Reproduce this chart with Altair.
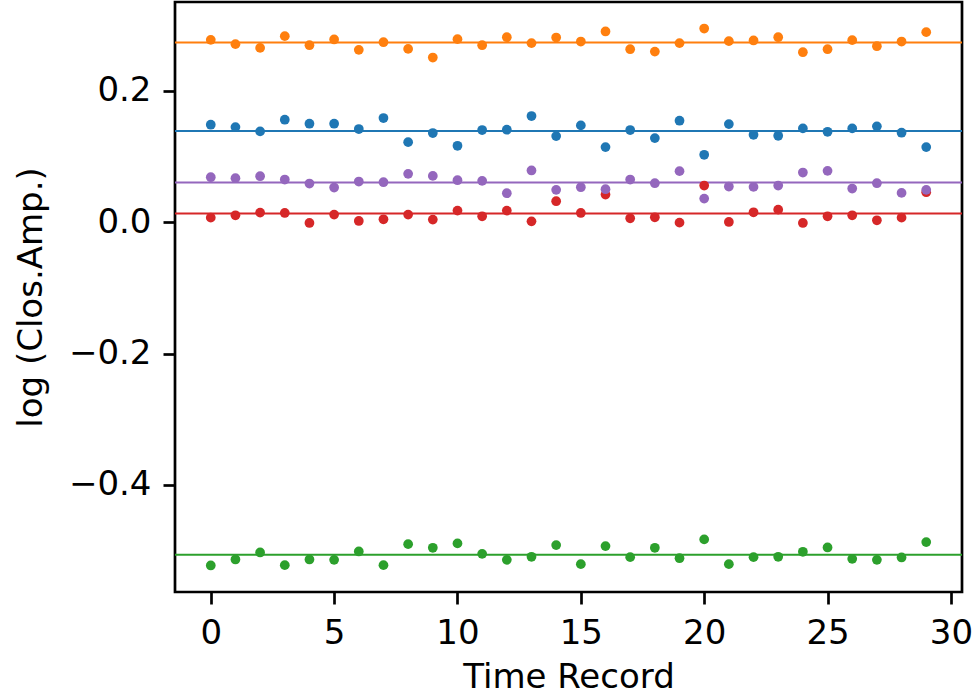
import altair as alt
import pandas as pd

records = list(range(30))

blue = [0.1486, 0.1450, 0.1384, 0.1562, 0.1501, 0.1501, 0.1420, 0.1588, 0.1221, 0.1359,
        0.1165, 0.1405, 0.1410, 0.1618, 0.1313, 0.1476, 0.1145, 0.1405, 0.1282, 0.1547,
        0.1028, 0.1496, 0.1333, 0.1318, 0.1430, 0.1379, 0.1430, 0.1461, 0.1364, 0.1145]
orange = [0.2779, 0.2713, 0.2656, 0.2835, 0.2697, 0.2784, 0.2626, 0.2743, 0.2641, 0.2509,
          0.2789, 0.2697, 0.2819, 0.2728, 0.2814, 0.2753, 0.2906, 0.2636, 0.2600, 0.2728,
          0.2951, 0.2759, 0.2769, 0.2819, 0.2590, 0.2636, 0.2774, 0.2682, 0.2753, 0.2896]
green = [-0.5226, -0.5135, -0.5028, -0.5221, -0.5135, -0.5140, -0.5013, -0.5221, -0.4901, -0.4957,
         -0.4890, -0.5049, -0.5140, -0.5094, -0.4916, -0.5206, -0.4931, -0.5099, -0.4957, -0.5115,
         -0.4829, -0.5206, -0.5099, -0.5094, -0.5018, -0.4952, -0.5125, -0.5140, -0.5104, -0.4870]
red = [0.0071, 0.0107, 0.0148, 0.0142, -0.0010, 0.0117, 0.0020, 0.0046, 0.0117, 0.0041,
       0.0178, 0.0092, 0.0178, 0.0015, 0.0321, 0.0142, 0.0422, 0.0061, 0.0076, -0.0005,
       0.0560, 0.0005, 0.0153, 0.0193, -0.0010, 0.0092, 0.0107, 0.0031, 0.0071, 0.0458]
purple = [0.0687, 0.0672, 0.0702, 0.0651, 0.0590, 0.0529, 0.0621, 0.0611, 0.0738, 0.0707,
          0.0641, 0.0631, 0.0443, 0.0789, 0.0494, 0.0534, 0.0504, 0.0651, 0.0595, 0.0779,
          0.0361, 0.0545, 0.0539, 0.0560, 0.0758, 0.0784, 0.0514, 0.0595, 0.0448, 0.0494]

series_names = ["s0", "s1", "s2", "s3", "s4"]
series_values = [blue, orange, green, red, purple]
series_means = [0.139, 0.2737, -0.5064, 0.0133, 0.0606]
series_colors = ["#1f77b4", "#ff7f0e", "#2ca02c", "#d62728", "#9467bd"]

x_ticks = [0, 5, 10, 15, 20, 25, 30]
y_ticks = [-0.4, -0.2, 0.0, 0.2]

rows = []
for name, vals in zip(series_names, series_values):
    for r, v in zip(records, vals):
        rows.append({"series": name, "record": r, "value": v})
points_df = pd.DataFrame(rows)
means_df = pd.DataFrame({"series": series_names, "mean": series_means})

color = alt.Color("series:N", scale=alt.Scale(domain=series_names, range=series_colors), legend=None)

xscale = alt.Scale(domain=[-1.45, 30.45], nice=False, zero=False)
yscale = alt.Scale(domain=[-0.563, 0.3355], nice=False, zero=False)

FS = 34
common = dict(grid=False, labelFontSize=FS, titleFontSize=FS, labelFont="DejaVu Sans",
              titleFont="DejaVu Sans", titleFontWeight="normal", tickSize=12, tickWidth=2.7,
              tickColor="black", labelColor="black", titleColor="black", labelPadding=12,
              domain=False, labelFlush=False)

xaxis = alt.Axis(title="Time Record", values=x_ticks, titlePadding=10, **common)
yaxis = alt.Axis(title="log (Clos.Amp.)", values=y_ticks,
                 labelExpr="replace(format(datum.value, '.1f'), '-', '\u2212')",
                 titlePadding=20, **common)

rules = alt.Chart(means_df).mark_rule(strokeWidth=2).encode(
    y=alt.Y("mean:Q", scale=yscale, axis=yaxis),
    color=color,
)

points = alt.Chart(points_df).mark_circle(size=95, opacity=1).encode(
    x=alt.X("record:Q", scale=xscale, axis=xaxis),
    y=alt.Y("value:Q", scale=yscale, axis=yaxis),
    color=color,
)

chart = alt.layer(rules, points).properties(
    width=787, height=590,
    background="white",
    autosize=alt.AutoSizeParams(type="none"),
    padding={"left": 175, "top": 2, "right": 15, "bottom": 106},
).configure_view(stroke="black", strokeWidth=2.7)

chart.save("out.html", embed_options={"renderer": "svg", "actions": False})
